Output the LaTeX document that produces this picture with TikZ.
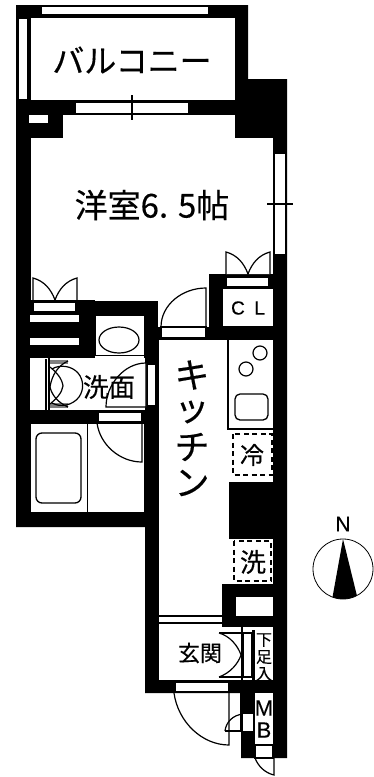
\documentclass[tikz,border=0pt]{standalone}
\usepackage{fontspec}
\newfontfamily\jp[FakeBold=0.35]{Noto Sans CJK JP}
\setmainfont[FakeBold=0.3]{Liberation Sans}
\tikzset{
  room/.style={fill=white,draw=black,line width=.8pt},
  slab/.style={fill=white,draw=black,line width=1.2pt},
  thin/.style={draw=black,line width=1.2pt},
  dashbox/.style={draw=black,line width=1.5pt,dash pattern=on 5pt off 3.5pt},
  lab/.style={inner sep=0pt,font=\jp},
}
\begin{document}
\begin{tikzpicture}[x=1pt,y=-1pt]
\useasboundingbox (0,0) rectangle (374,777);
% silhouette
\fill[black] (16,5)--(248,5)--(248,79)--(287,79)--(287,758)--(241,758)--(241,693)--(145,693)--(145,527)--(16,527)--cycle;
% balcony
\draw[room] (30,17) rectangle (235,100);
\draw[slab] (41,6) rectangle (209,15);
\draw[slab] (18,18) rectangle (28,100);
% main room
\draw[room] (30,137)--(62,137)--(62,114)--(235,114)--(235,137)--(273,137)--(273,274)--(209,274)--(209,327)--(157,327)--(157,301)--(30,301)--cycle;
\draw[slab] (75,102) rectangle (189,114);
\draw[thin] (132,95)--(132,120);
\fill[white] (29,115) rectangle (48,123);
\draw[slab] (274,153) rectangle (286,255);
\draw[thin] (267,204)--(293,204);
% left shelves / folding door
\draw[thin,fill=white] (33,300)--(33,278) .. controls (44,281) and (51,289) .. (55,300) .. controls (59,289) and (66,281) .. (77,278)--(77,300);
\fill[black] (30,300) rectangle (95,358);
\draw[slab] (33,302) rectangle (76,312);
\draw[slab] (29,314) rectangle (80,323);
\draw[slab] (29,337) rectangle (80,346);
\fill[black] (78,301) rectangle (157,315);
% washbasin
\draw[room] (95,315) rectangle (144,355);
\draw[line width=1.2pt] (119,340) ellipse (20 and 13);
% wash room
\fill[white] (30,358) rectangle (145,410);
\fill[white] (95,355) rectangle (144,358);
\draw[thin] (95,355.5)--(144,355.5);
\draw[thin] (46,359)--(46,410);
\draw[slab] (147,364) rectangle (156,406);
\fill[gray] (50,360) rectangle (68,364);
\fill[gray] (50,403) rectangle (68,408);
\fill[black] (48,358) rectangle (50,410);
\draw[thin] (50,387) .. controls (52,374) and (59,365) .. (68,361);
\draw[thin] (50,387) .. controls (52,396) and (59,403) .. (68,407);
\draw[thin] (50,367) .. controls (56,372) and (62,378) .. (63,386) .. controls (62,393) and (56,399) .. (50,404);
\draw[thin] (52,369) .. controls (60,364) and (72,366) .. (78,373) .. controls (84,380) and (84,390) .. (79,397) .. controls (73,405) and (61,408) .. (52,403);
\draw[thin,fill=white] (146,363)--(146,407)--(106,407) .. controls (106,385) and (124,363) .. (146,363);
% bath
\draw[room] (30,423) rectangle (87.5,512);
\draw[room] (87.5,423) rectangle (144,512);
\draw[line width=1.3pt,rounded corners=6pt] (36,433) rectangle (81,503);
\fill[black] (87,410) rectangle (145,423);
\draw[slab] (98,412) rectangle (142,422);
\draw[thin] (97,423) .. controls (100,445) and (120,462) .. (142,462)--(142,423);
% kitchen
\draw[room] (158,339)--(273,339)--(273,482)--(229,482)--(229,538)--(273,538)--(273,584)--(222,584)--(222,680)--(158,680)--cycle;
\draw[slab] (161,327) rectangle (206,338);
\draw[thin] (161,327) .. controls (161,305) and (182,288) .. (206,288)--(206,327);
% closet
\fill[black] (209,274) rectangle (222,327);
\fill[black] (206,327) rectangle (273,340);
\draw[room] (222,288) rectangle (273,326);
\draw[thin,fill=white] (226,274)--(226,252) .. controls (237,255) and (244,263) .. (248,274) .. controls (252,263) and (259,255) .. (270,252)--(270,274);
\draw[slab] (226,277) rectangle (269,287);
% counter
\draw[thin] (228,340)--(228,429)--(273,429);
\draw[line width=1.2pt] (260,353) circle (7);
\draw[line width=1.2pt] (246,369) circle (7);
\draw[line width=1.3pt,rounded corners=5pt] (235,394) rectangle (268,420);
\draw[dashbox] (233,434) rectangle (272,475);
\draw[dashbox] (234,541) rectangle (271,581);
% block above genkan
\fill[black] (222,584) rectangle (273,627);
\fill[white] (236,597) rectangle (273,616);
\draw[thin] (158,616)--(222,616);
\draw[thin] (158,623)--(222,623);
% genkan closet
\fill[white] (222,627) rectangle (273,680);
\draw[thin,fill=white] (243,633) rectangle (252,677);
\fill[black] (252,630) rectangle (254.5,680);
\draw[thin] (219,633)--(241,633) (219,677)--(241,677);
\draw[thin,fill=white] (219,633) .. controls (230,636) and (238,646) .. (241,655) .. controls (238,664) and (230,673) .. (219,677);
\fill[black] (241,627) rectangle (243,680);
% entrance
\fill[black] (145,680) rectangle (287,693);
\draw[slab] (175,682) rectangle (229,692);
\draw[thin] (174,693) .. controls (178,722) and (202,745) .. (229,745)--(229,693);
\draw[thin] (241,693)--(241,730);
\draw[thin] (225,731) .. controls (226,722) and (233,715) .. (243,714);
\draw[thin] (225,731)--(243,731);
\fill[white] (243,714) rectangle (253,731);
% MB
\fill[white] (255,693) rectangle (273,745);
\draw[slab] (255,745) rectangle (273,758);
\draw[thin] (255,758) .. controls (258,766) and (265,773) .. (274,775)--(274,758);
% text
\node[lab,font=\jp\fontsize{32}{32}\selectfont] (balcony) at (132,60) {バルコニー};
\node[lab,font=\jp\fontsize{33}{33}\selectfont] (room) at (152,205) {洋室6. 5帖};
\node[lab,font=\fontsize{19}{19}\selectfont] (cl) at (248,308) {C\,\,\,L};
\node[lab,font=\jp\fontsize{26}{26}\selectfont] (wash) at (109,387) {洗面};
\node[lab,font=\jp\fontsize{35}{35}\selectfont] (k1) at (192,375) {キ};
\node[lab,font=\jp\fontsize{35}{35}\selectfont] (k2) at (192,412) {ッ};
\node[lab,font=\jp\fontsize{35}{35}\selectfont] (k3) at (192,447) {チ};
\node[lab,font=\jp\fontsize{35}{35}\selectfont] (k4) at (192,483) {ン};
\node[lab,font=\jp\fontsize{24}{24}\selectfont] (cold) at (252,455) {冷};
\node[lab,font=\jp\fontsize{26}{26}\selectfont] (sen) at (253,562) {洗};
\node[lab,font=\jp\fontsize{22}{22}\selectfont] (gen) at (200,653) {玄関};
\node[lab,font=\jp\fontsize{16}{16}\selectfont] (s1) at (264,640) {下};
\node[lab,font=\jp\fontsize{16}{16}\selectfont] (s2) at (264,657) {足};
\node[lab,font=\jp\fontsize{16}{16}\selectfont] (s3) at (264,674) {入};
\node[lab,font=\fontsize{22}{22}\selectfont] (m) at (264,708) {M};
\node[lab,font=\fontsize{22}{22}\selectfont] (b) at (264,730) {B};
% compass
\node[lab,font=\fontsize{21}{21}\selectfont] (north) at (343,524) {N};
\draw[line width=.8pt] (343,569) circle (30);
\begin{scope}
\clip (343,569) circle (30);
\fill[black] (343,539)--(358,600)--(332,600)--cycle;
\end{scope}
\end{tikzpicture}
\end{document}
